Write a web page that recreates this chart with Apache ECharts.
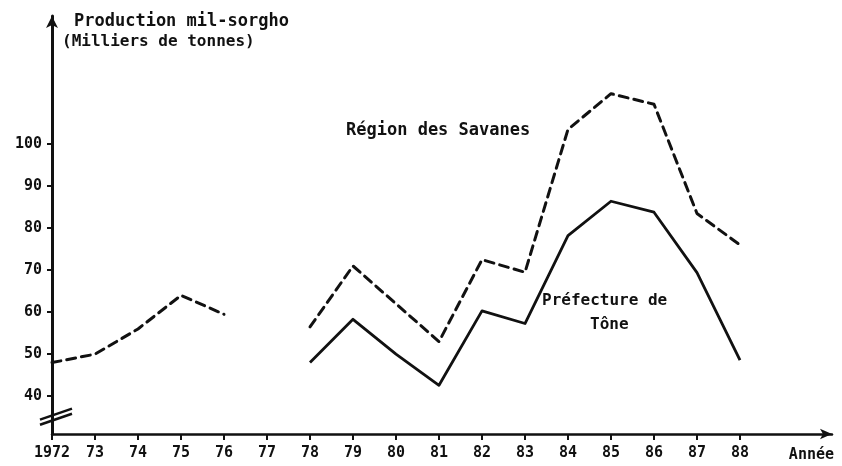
<!DOCTYPE html>
<html>
<head>
<meta charset="utf-8">
<script src="https://cdn.jsdelivr.net/npm/echarts@6/dist/echarts.min.js"></script>
<style>
html,body{margin:0;padding:0;background:#fff;}
#chart{width:842px;height:466px;}
</style>
</head>
<body>
<div id="chart"></div>
<script>
// Data
var years = [1972,1973,1974,1975,1976,1977,1978,1979,1980,1981,1982,1983,1984,1985,1986,1987,1988];
var savanes = [48, 50, 56, 64, 59.5, null, 56.5, 71, 62, 53, 72.5, 69.5, 103.5, 112, 109.5, 83.5, 76];
var tone = [null, null, null, null, null, null, 48, 58.3, 50, 42.6, 60.3, 57.3, 78.2, 86.4, 83.8, 69.4, 48.6];
var yTicks = [40, 50, 60, 70, 80, 90, 100];

var FONT = '"DejaVu Sans Mono", monospace';
function pairs(vals){ return years.map(function(y,i){ return [y, vals[i]]; }); }

var chart = echarts.init(document.getElementById('chart'), null, {renderer:'canvas'});
var option = {
  backgroundColor: '#ffffff',
  animation: false,
  grid: {left: 52, right: 10, top: 16, bottom: 32, containLabel: false},
  xAxis: {
    type: 'value', min: 1972, max: 1990.14,
    name: 'Année', nameLocation: 'end', nameGap: 2,
    nameTextStyle: {fontFamily: FONT, fontWeight: 'bold', fontSize: 15, color: '#111', align: 'right', verticalAlign: 'top', padding: [14, 0, 0, 0]},
    axisLine: {show: true, onZero: false, lineStyle: {color: '#111', width: 2.5}, symbol: ['none', 'arrow'], symbolSize: [8, 12]},
    axisTick: {show: true, inside: false, length: 6, lineStyle: {color: '#111', width: 2}, customValues: years},
    axisLabel: {
      customValues: years, margin: 12, color: '#111', fontFamily: FONT, fontWeight: 'bold', fontSize: 15,
      formatter: function(v){ return v === 1972 ? '1972' : String(v).slice(2); }
    },
    splitLine: {show: false}
  },
  yAxis: {
    type: 'value', min: 31, max: 130.5,
    axisLine: {show: true, onZero: false, lineStyle: {color: '#111', width: 3}, symbol: ['none', 'arrow'], symbolSize: [9, 12]},
    axisTick: {show: true, inside: false, length: 5, lineStyle: {color: '#111', width: 2}, customValues: yTicks},
    axisLabel: {customValues: yTicks, margin: 10, color: '#111', fontFamily: FONT, fontWeight: 'bold', fontSize: 15},
    splitLine: {show: false}
  },
  series: [
    {
      name: 'Région des Savanes', type: 'line', data: pairs(savanes), showSymbol: false, connectNulls: false,
      lineStyle: {color: '#111', width: 3, type: [9, 6], cap: 'round', join: 'round'}
    },
    {
      name: 'Préfecture de Tône', type: 'line', data: pairs(tone), showSymbol: false, connectNulls: false,
      lineStyle: {color: '#111', width: 2.8, type: 'solid', join: 'round'}
    }
  ]
};
chart.setOption(option);

// decorative labels and axis break
var p1 = chart.convertToPixel({gridIndex: 0}, [1972, 35.6]);
var p2 = chart.convertToPixel({gridIndex: 0}, [1972, 34.4]);
chart.setOption({
  graphic: [
    {type: 'text', left: 74, top: 13, style: {text: 'Production mil-sorgho', font: 'bold 17px ' + FONT, fill: '#111'}},
    {type: 'text', left: 62, top: 34, style: {text: '(Milliers de tonnes)', font: 'bold 16px ' + FONT, fill: '#111'}},
    {type: 'text', left: 346, top: 122, style: {text: 'Région des Savanes', font: 'bold 17px ' + FONT, fill: '#111'}},
    {type: 'text', left: 542, top: 293, style: {text: 'Préfecture de', font: 'bold 16px ' + FONT, fill: '#111'}},
    {type: 'text', left: 590, top: 317, style: {text: 'Tône', font: 'bold 16px ' + FONT, fill: '#111'}},
    {type: 'line', shape: {x1: p1[0] - 12, y1: p1[1] + 5, x2: p1[0] + 20, y2: p1[1] - 6}, style: {stroke: '#111', lineWidth: 2.5}},
    {type: 'line', shape: {x1: p2[0] - 12, y1: p2[1] + 5, x2: p2[0] + 20, y2: p2[1] - 6}, style: {stroke: '#111', lineWidth: 2.5}}
  ]
});
</script>
</body>
</html>
